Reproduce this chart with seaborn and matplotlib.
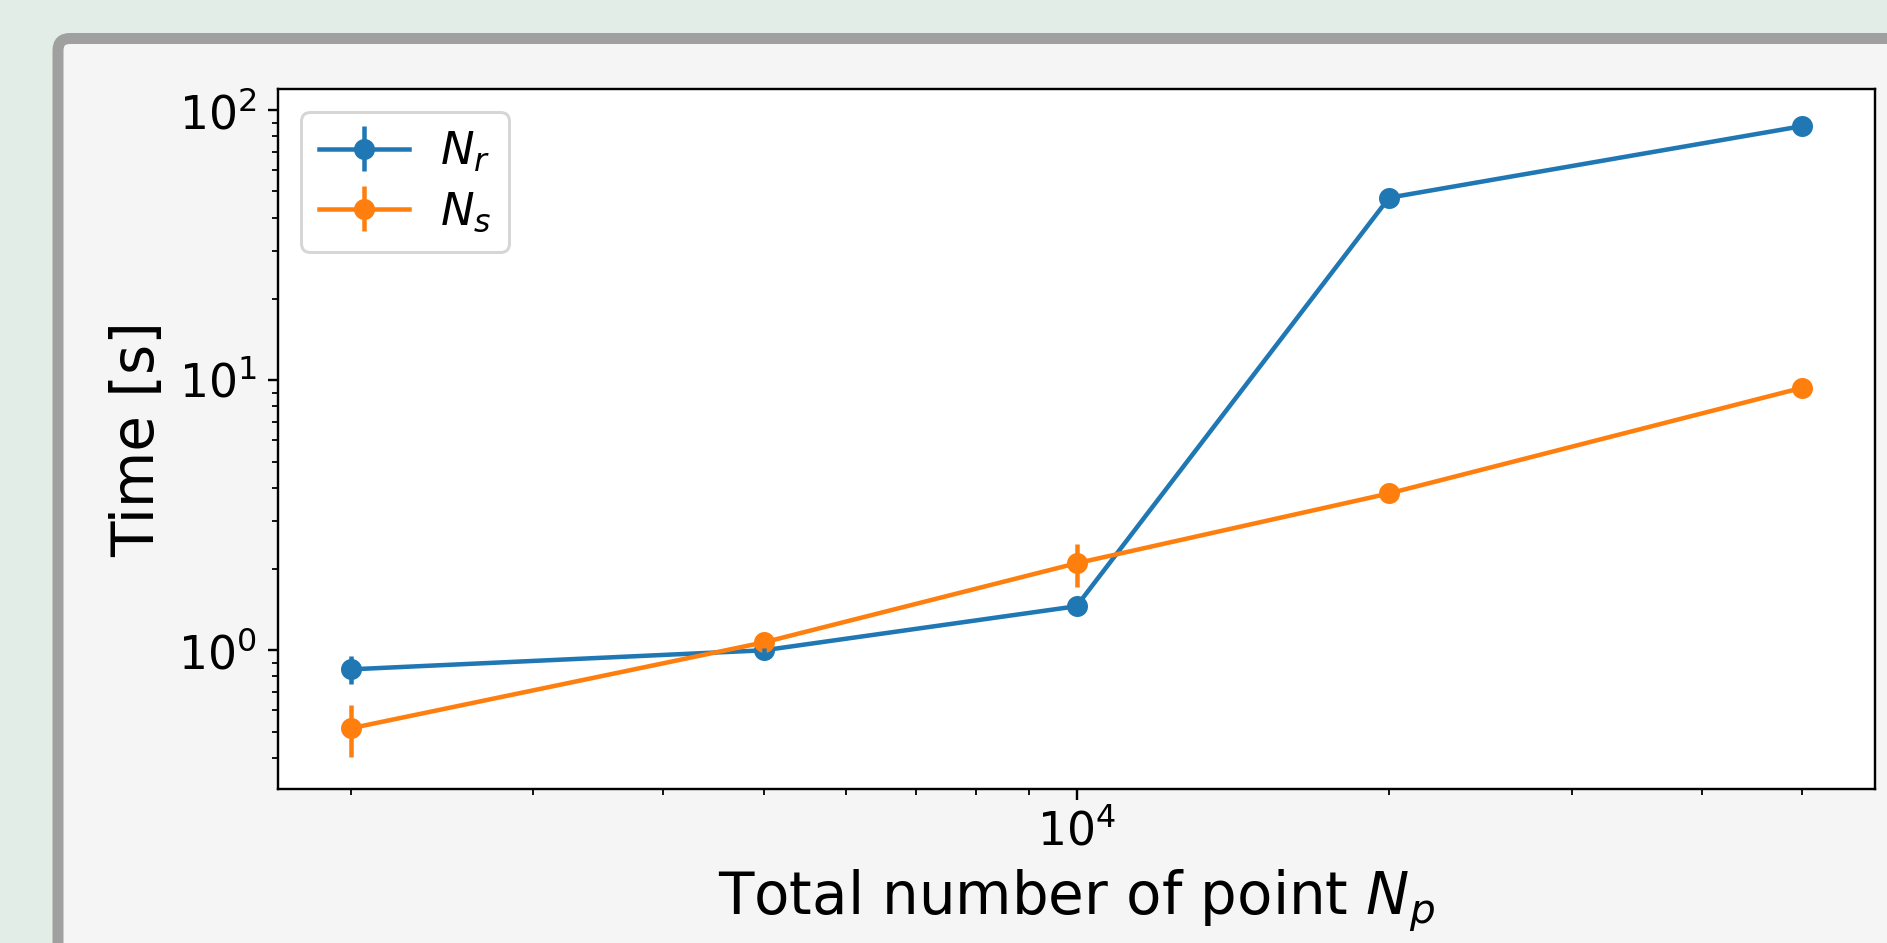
import matplotlib
matplotlib.use("Agg")
import matplotlib.pyplot as plt
from matplotlib.patches import FancyBboxPatch
from matplotlib.transforms import IdentityTransform
from matplotlib.legend_handler import HandlerTuple
import numpy as np
import pandas as pd
import seaborn as sns

# Benchmark timings against the total number of points
n_points = [2000, 5000, 10000, 20000, 50000]
time_nr = [0.85, 1.0, 1.456, 47.4, 87.3]
err_nr = [0.10, 0.02, 0.05, 1.0, 4.0]
time_ns = [0.514, 1.07, 2.10, 3.81, 9.38]
err_ns = [0.112, 0.03, 0.38, 0.1, 0.2]
series_labels = ["$N_r$", "$N_s$"]

W, H, DPI = 1887, 943, 216
colors = sns.color_palette("tab10", 2)

plt.rcParams.update({
    "font.family": "DejaVu Sans",
    "mathtext.fontset": "dejavusans",
})

fig = plt.figure(figsize=(W / DPI, H / DPI), dpi=DPI, facecolor="#e3ede8")

# Rounded card behind the plot
card = FancyBboxPatch(
    (58, -60), W + 100, 904.5 + 60,
    boxstyle="round,pad=0,rounding_size=12",
    transform=IdentityTransform(), facecolor="#f5f5f5",
    edgecolor="#a0a0a0", linewidth=11 * 72 / DPI, zorder=-10,
)
fig.patches.append(card)

ax = fig.add_axes([278 / W, (H - 789) / H, (1875 - 278) / W, (789 - 89) / H])
ax.set_facecolor("white")

df = pd.DataFrame({
    "Np": n_points * 2,
    "time": time_nr + time_ns,
    "series": [series_labels[0]] * len(n_points) + [series_labels[1]] * len(n_points),
})

sns.lineplot(
    data=df, x="Np", y="time", hue="series", hue_order=series_labels,
    palette=colors, marker="o", markersize=7, markeredgewidth=0,
    linewidth=1.5, errorbar=None, legend=False, ax=ax,
)
lines = list(ax.lines)

err_containers = []
for vals, errs, c in zip([time_nr, time_ns], [err_nr, err_ns], colors):
    cont = ax.errorbar(n_points, vals, yerr=errs, fmt="none", ecolor=c,
                       elinewidth=1.5, capsize=0)
    err_containers.append(cont)

ax.set_xscale("log")
ax.set_yscale("log")
ax.margins(x=0.05, y=0.05)

for s in ax.spines.values():
    s.set_color("black")
    s.set_linewidth(0.8)
ax.tick_params(which="both", direction="out", colors="black", labelsize=15.2)
ax.tick_params(which="major", length=3.5, width=0.8)
ax.tick_params(which="minor", length=2, width=0.6)

ax.set_xlabel("Total number of point $N_p$", fontsize=19.3, color="black")
ax.set_ylabel("Time [s]", fontsize=19.3, color="black")

ax.legend(
    [(ln, ec) for ln, ec in zip(lines, err_containers)], series_labels,
    handler_map={tuple: HandlerTuple(ndivide=1)},
    loc="upper left", fontsize=15, frameon=True, fancybox=True,
    framealpha=0.8, edgecolor="0.8", labelspacing=0.37, handletextpad=0.7,
)

fig.savefig("out.png", dpi=DPI, facecolor=fig.get_facecolor())
